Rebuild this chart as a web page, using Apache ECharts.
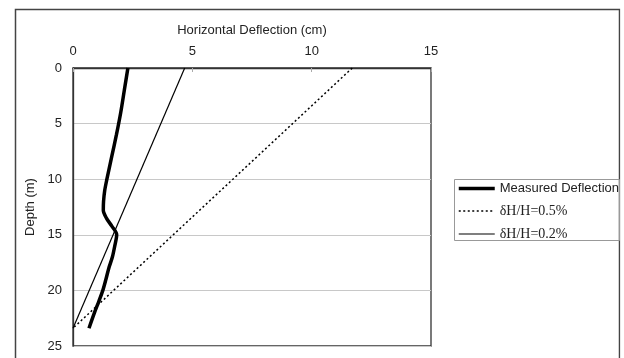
<!DOCTYPE html>
<html>
<head>
<meta charset="utf-8">
<script src="https://cdn.jsdelivr.net/npm/echarts@6/dist/echarts.min.js"></script>
<style>
  html, body { margin: 0; padding: 0; background: #fff; }
  #chart { width: 624px; height: 358px; }
</style>
</head>
<body>
<div id="chart"></div>
<script>
// Depth (m) and horizontal deflection (cm) of the measured inclinometer profile
const measuredDepth = [0, 2, 4, 6, 8, 10, 11, 12, 12.8, 13.5, 14.2, 15, 16, 17, 18, 19, 20, 21, 22, 23.4];
const measuredDefl  = [2.3, 2.15, 2.0, 1.82, 1.62, 1.42, 1.33, 1.28, 1.27, 1.4, 1.62, 1.83, 1.75, 1.65, 1.5, 1.38, 1.25, 1.08, 0.9, 0.67];

// Reference lines for wall height H = 23.4 m
const refDepth    = [0, 23.4];
const ref05Defl   = [11.7, 0];
const ref02Defl   = [4.68, 0];

const seriesNames = ['Measured Deflection', 'δH/H=0.5%', 'δH/H=0.2%'];
const xTicks = { min: 0, max: 15, interval: 5 };
const yTicks = { min: 0, max: 25, interval: 5 };

const pairs = (xs, ys) => xs.map((x, i) => [x, ys[i]]);

const sans = 'Liberation Sans, Arial, sans-serif';
const serif = 'Liberation Serif, Times New Roman, serif';

const styles = [
  { color: '#000', width: 3.5, type: 'solid' },
  { color: '#000', width: 1.5, type: [2, 2.5] },
  { color: '#000', width: 1.2, type: 'solid' }
];

const chart = echarts.init(document.getElementById('chart'), null, { renderer: 'canvas' });

chart.setOption({
  animation: false,
  backgroundColor: '#fff',
  grid: {
    left: 73, top: 68, width: 358, height: 278,
    show: true, borderColor: '#333', borderWidth: 1.3, backgroundColor: 'transparent'
  },
  xAxis: {
    type: 'value', position: 'top',
    min: xTicks.min, max: xTicks.max, interval: xTicks.interval,
    name: 'Horizontal Deflection (cm)', nameLocation: 'middle', nameGap: 31,
    nameTextStyle: { fontFamily: sans, fontSize: 13, color: '#222' },
    axisLine: { show: true, lineStyle: { color: '#333', width: 1.3 } },
    axisTick: { show: true, inside: true, length: 4, lineStyle: { color: '#aaa' } },
    axisLabel: { margin: 10, fontFamily: sans, fontSize: 13, color: '#222' },
    splitLine: { show: false }
  },
  yAxis: {
    type: 'value', inverse: true,
    min: yTicks.min, max: yTicks.max, interval: yTicks.interval,
    name: 'Depth (m)', nameLocation: 'middle', nameGap: 28,
    nameTextStyle: { fontFamily: sans, fontSize: 13, color: '#222' },
    axisLine: { show: true, lineStyle: { color: '#333', width: 1.3 } },
    axisTick: { show: false },
    axisLabel: { margin: 11, fontFamily: sans, fontSize: 13, color: '#222' },
    splitLine: { show: true, lineStyle: { color: '#c8c8c8', width: 1 } }
  },
  legend: {
    orient: 'vertical', left: 457, top: 182, padding: 0,
    itemWidth: 36, itemHeight: 14, itemGap: 9,
    data: seriesNames.map((n, i) => ({ name: n, lineStyle: Object.assign({}, styles[i]) })),
    itemStyle: { opacity: 0 },
    formatter: name => name === seriesNames[0] ? '{s|' + name + '}' : '{r|' + name + '}',
    textStyle: {
      color: '#222',
      rich: {
        s: { fontFamily: sans, fontSize: 13, color: '#222' },
        r: { fontFamily: serif, fontSize: 14, color: '#222' }
      }
    }
  },
  graphic: [
    { type: 'rect', silent: true, z: -1,
      shape: { x: 15.5, y: 9.5, width: 604, height: 360 },
      style: { fill: 'none', stroke: '#444', lineWidth: 1.5 } },
    { type: 'rect', silent: true,
      shape: { x: 454.5, y: 179.5, width: 165, height: 61 },
      style: { fill: 'none', stroke: '#999', lineWidth: 1 } },
    // white strip keeps legend text inside the frame
    { type: 'rect', silent: true, z: 100,
      shape: { x: 620.5, y: 0, width: 10, height: 358 },
      style: { fill: '#fff' } }
  ],
  series: seriesNames.map((n, i) => ({
    name: n, type: 'line', showSymbol: false, symbol: 'none',
    data: i === 0 ? pairs(measuredDefl, measuredDepth)
        : i === 1 ? pairs(ref05Defl, refDepth)
        : pairs(ref02Defl, refDepth),
    smooth: i === 0 ? 0.3 : false,
    lineStyle: styles[i], itemStyle: { color: '#000' }, z: i === 0 ? 3 : 2
  }))
});
</script>
</body>
</html>
